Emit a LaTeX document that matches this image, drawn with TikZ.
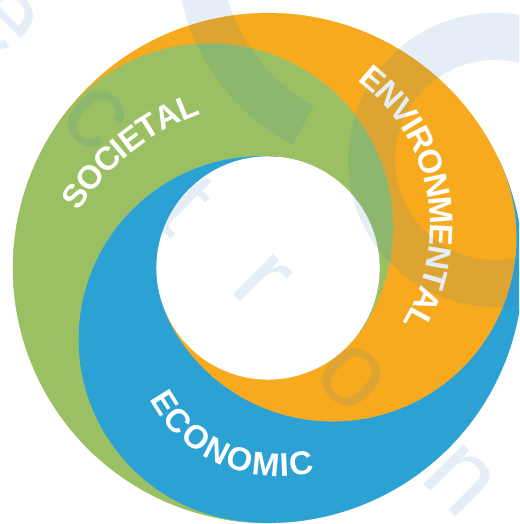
\documentclass[tikz,border=0pt]{standalone}
\usepackage{fontspec}
\setmainfont{Liberation Sans}
\usetikzlibrary{decorations.text}

\definecolor{socgreen}{RGB}{155,192,99}
\definecolor{envorange}{RGB}{247,170,30}
\definecolor{ecoblue}{RGB}{43,161,212}
\definecolor{markblue}{RGB}{60,130,190}

\newcommand{\ringfont}{\fontsize{18.7}{20}\selectfont\bfseries}
\newcommand{\markfont}{\fontsize{61}{61}\selectfont}

\tikzset{
  arm/.style={fill=#1, draw=#1, line width=0.2pt},
  ringlabel/.style={decorate, decoration={text along path, text={|\ringfont|#1},
    text color=white, text align=center, raise=-6.7pt}},
  watermark/.style={fill=markblue, fill opacity=0.13, draw=none},
  marktext/.style={text=markblue, text opacity=0.13, rotate=-45, font=\markfont, inner sep=0pt},
}

\begin{document}
\begin{tikzpicture}[scale=0.02]
% page, ring centre at the origin
\useasboundingbox (-268,-256) rectangle (251,268);
\fill[white] (-268,-256) rectangle (251,268);
\clip (-268,-256) rectangle (251,268);

% three arms: rim 255, hole 112, each cut by a disk of radius 183.5
\foreach \a/\col in {265/ecoblue, 25/envorange, 145/socgreen}
  \fill[arm=\col, rotate=\a-145] (145:255)
    arc[start angle=145, end angle=-35, radius=183.5]
    arc[start angle=-35, end angle=85, radius=112]
    arc[start angle=85, end angle=265, radius=183.5]
    arc[start angle=265, end angle=145, radius=255] -- cycle;

% labels
\path[ringlabel=SOCIETAL, shift={(11,-68)}] (160:247) arc[start angle=160, end angle=97.6, radius=247];
\path[ringlabel=ENVIRONMENTAL, shift={(-20,42)}] (70:194) arc[start angle=70, end angle=-49, radius=194];
\path[ringlabel=ECONOMIC, shift={(11,-62)}] (196:135) arc[start angle=196, end angle=296, radius=135];

% faint mark over everything
\fill[watermark, even odd rule] (227,108) circle[radius=147] circle[radius=100];
\fill[watermark, shift={(128,317)}] (150:220) arc[start angle=150, end angle=242, radius=220]
  -- (242:175) arc[start angle=242, end angle=150, radius=175] -- cycle;
\node[marktext] (m1) at (-263,248) {e};
\node[marktext] (m2) at (-173,150) {c};
\node[marktext] (m3) at (-83,63) {t};
\node[marktext] (m4) at (-6,-14) {r};
\node[marktext] (m5) at (84,-110) {o};
\node[marktext] (m6) at (192,-212) {n};
\end{tikzpicture}
\end{document}
